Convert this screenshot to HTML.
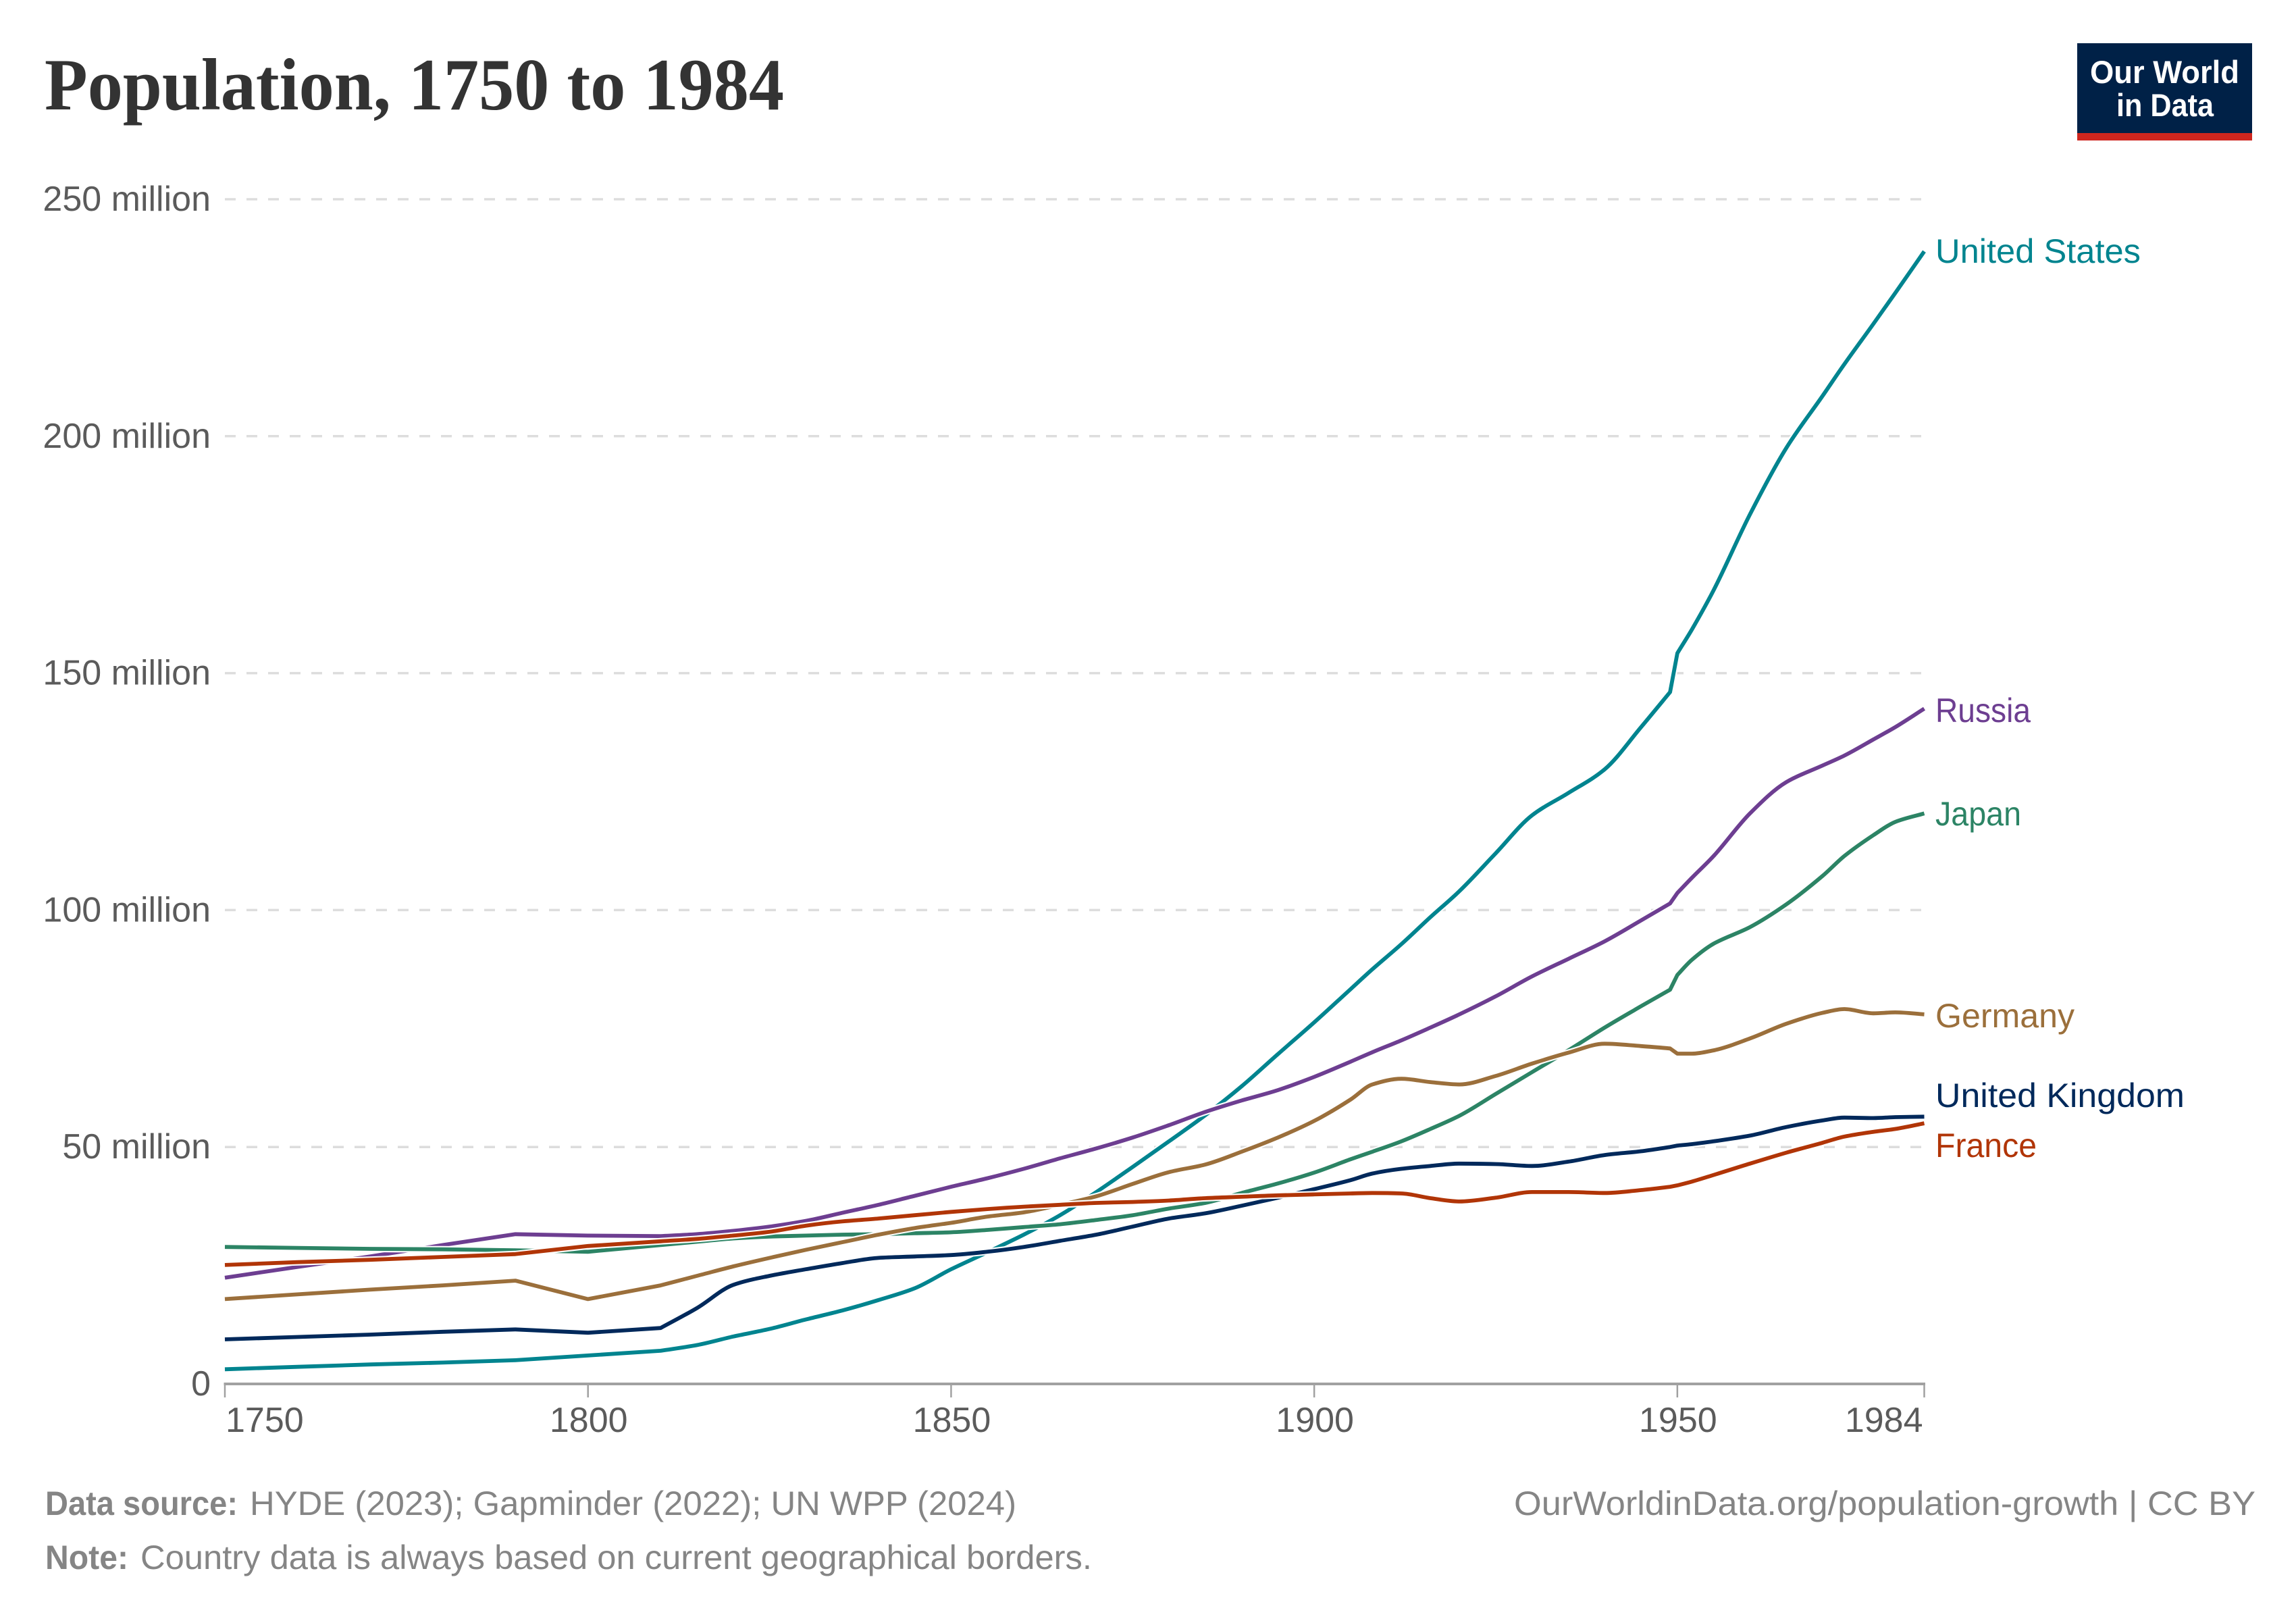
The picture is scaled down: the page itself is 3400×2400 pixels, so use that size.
<!DOCTYPE html>
<html lang="en">
<head>
<meta charset="utf-8">
<title>Population, 1750 to 1984</title>
<style>
html,body{margin:0;padding:0;background:#fff;}
svg{display:block;}
text{font-family:"Liberation Sans",sans-serif;}
.title{font-family:"Liberation Serif",serif;font-weight:700;font-size:109px;fill:#333;}
.foot{font-size:50px;fill:#858585;}
.foot-b{font-size:50px;fill:#858585;font-weight:700;}
.logo-t{font-size:47px;font-weight:700;fill:#fff;}
.tick{font-size:52px;fill:#5b5b5b;}
.label{font-size:50px;}
</style>
</head>
<body>
<svg id="chart" width="3400" height="2400" viewBox="0 0 3400 2400" xmlns="http://www.w3.org/2000/svg">
  <rect x="0" y="0" width="3400" height="2400" fill="#ffffff"/>
  <text class="title" x="66" y="162" textLength="1095" lengthAdjust="spacingAndGlyphs">Population, 1750 to 1984</text>
  <g>
    <rect x="3076" y="64" width="259" height="133" fill="#002147"/>
    <rect x="3076" y="197" width="259" height="11" fill="#ce261e"/>
    <text class="logo-t" x="3095" y="123" textLength="221" lengthAdjust="spacingAndGlyphs">Our World</text>
    <text class="logo-t" x="3134" y="172" textLength="144" lengthAdjust="spacingAndGlyphs">in Data</text>
  </g>
  <g id="grid"></g>
  <g id="y-axis"></g>
  <g id="x-axis"></g>
  <g id="series"></g>
  <g id="labels"></g>
  <g>
    <text class="foot-b" x="67" y="2243" textLength="285" lengthAdjust="spacingAndGlyphs">Data source:</text>
    <text class="foot" x="370" y="2243" textLength="1135" lengthAdjust="spacingAndGlyphs">HYDE (2023); Gapminder (2022); UN WPP (2024)</text>
    <text class="foot-b" x="67" y="2323" textLength="123" lengthAdjust="spacingAndGlyphs">Note:</text>
    <text class="foot" x="208" y="2323" textLength="1409" lengthAdjust="spacingAndGlyphs">Country data is always based on current geographical borders.</text>
    <text class="foot" x="2242" y="2243" textLength="1098" lengthAdjust="spacingAndGlyphs">OurWorldinData.org/population-growth | CC BY</text>
  </g>
</svg>
<script>
// Data (population in millions)
const years = [1750,1760,1770,1780,1790,1800,1810,
  1815,1820,1825,1830,1835,1840,1845,1850,1855,1860,1865,1870,1875,1880,1885,1890,1895,1900,1905,
  1908,1912,1916,1920,1925,1930,1935,1940,1945,1949,1950,1952,1955,1960,1965,1970,1973,1977,1980,1984];

const unitedStates = [3.1,3.6,4.1,4.5,5.0,6.0,7.0,
  8.2,10,11.6,13.6,15.5,17.7,20.2,24.2,27.8,31.5,35.6,40.5,45.8,51.2,56.7,62.8,69.6,76.3,83.3,
  87.5,92.8,98.5,104,112,120,124.7,129.7,138.6,146,154.2,159.2,167.5,183.5,197.5,208.5,215.2,223.7,230.2,239];

const russia = [22.4,24.7,26.9,29.3,31.6,31.3,31.2,
  31.6,32.3,33.2,34.4,36.1,37.8,39.7,41.6,43.4,45.4,47.6,49.7,52,54.6,57.4,59.8,62,64.8,68,
  70,72.5,75.2,78,81.8,86,89.7,93.4,97.8,101.4,103.6,106.8,111.4,120.4,127,130.5,132.6,136,138.6,142.5];

const japan = [28.9,28.7,28.5,28.4,28.2,27.9,29.3,
  30,30.7,31.1,31.3,31.5,31.6,31.8,32,32.5,33.1,33.7,34.6,35.6,37,38.2,40.3,42.3,44.6,47.4,
  49,51.2,53.8,56.6,61.2,65.8,70.4,75.2,79.7,83.2,86.3,89.5,92.9,96.4,101.2,107.2,111.4,115.8,118.6,120.4];

const germany = [17.9,18.9,19.9,20.8,21.8,17.9,20.8,
  22.8,24.8,26.6,28.3,29.9,31.5,32.9,34,35.3,36.2,37.8,39.6,42.2,44.7,46.3,49,52,55.5,60,
  63.2,64.4,63.7,63.2,65,67.6,69.9,71.8,71.3,70.8,69.7,69.7,70.4,72.9,76,78.3,79.1,78.2,78.4,78];

const unitedKingdom = [9.4,9.9,10.4,11,11.5,10.8,11.8,
  16,20.9,22.8,24.2,25.5,26.6,26.9,27.2,27.9,28.9,30.2,31.5,33.2,34.9,36,37.6,39.3,41.1,43,
  44.4,45.4,46,46.5,46.4,46,46.9,48.3,49.1,50,50.3,50.6,51.2,52.4,54.2,55.6,56.2,56.1,56.3,56.4];

const france = [25.1,25.7,26.2,26.8,27.4,29.1,30.1,
  30.6,31.3,32.1,33.4,34.3,34.9,35.6,36.3,36.9,37.4,37.8,38.2,38.4,38.7,39.2,39.5,39.8,40,40.2,
  40.3,40.2,39.2,38.5,39.3,40.5,40.5,40.3,40.9,41.6,41.9,42.7,44.1,46.5,48.8,50.9,52.2,53.2,53.8,55];

const yTicks = [0,50,100,150,200,250];
const yTickLabels = ["0","50 million","100 million","150 million","200 million","250 million"];
const xTicks = [1750,1800,1850,1900,1950,1984];
const xTickLabels = ["1750","1800","1850","1900","1950","1984"];

const NS = "http://www.w3.org/2000/svg";
const X0 = 333, X1 = 2849.5, Y0 = 2049, PX_PER_M = 7.016;
function xScale(year){ return X0 + (year - 1750) * (X1 - X0) / 234; }
function yScale(value){ return Y0 - value * PX_PER_M; }
function make(tag, parent){ const el = document.createElementNS(NS, tag); parent.appendChild(el); return el; }

// Segments up to 1810 and the 1949-1950 jump stay straight (sparse / abrupt data); the rest use a monotone curve.
function isStraight(i){ return years[i + 1] <= 1810 || (years[i] === 1949 && years[i + 1] === 1950); }
function linePath(values){
  const px = values.map(function(v, i){ return xScale(years[i]); });
  const py = values.map(function(v){ return yScale(v); });
  const n = values.length;
  const sl = [];
  for (let i = 0; i < n - 1; i++) sl.push((py[i + 1] - py[i]) / (px[i + 1] - px[i]));
  const m = [];
  for (let i = 0; i < n; i++) {
    if (i === 0) m.push(sl[0]);
    else if (i === n - 1) m.push(sl[n - 2]);
    else if (isStraight(i - 1)) m.push(sl[i]);
    else if (isStraight(i)) m.push(sl[i - 1]);
    else if (sl[i - 1] * sl[i] <= 0) m.push(0);
    else m.push(2 * sl[i - 1] * sl[i] / (sl[i - 1] + sl[i]));
  }
  let d = "M" + px[0].toFixed(1) + " " + py[0].toFixed(1);
  for (let i = 0; i < n - 1; i++) {
    if (isStraight(i)) {
      d += " L" + px[i + 1].toFixed(1) + " " + py[i + 1].toFixed(1);
    } else {
      const h = (px[i + 1] - px[i]) / 3;
      d += " C" + (px[i] + h).toFixed(1) + " " + (py[i] + m[i] * h).toFixed(1) + " " +
           (px[i + 1] - h).toFixed(1) + " " + (py[i + 1] - m[i + 1] * h).toFixed(1) + " " +
           px[i + 1].toFixed(1) + " " + py[i + 1].toFixed(1);
    }
  }
  return d;
}

const gridG = document.getElementById("grid");
const yG = document.getElementById("y-axis");
yTicks.forEach(function(t, i){
  const y = yScale(t);
  if (t !== 0) {
    const ln = make("line", gridG);
    
    
    ln.setAttribute("x1", X0); ln.setAttribute("x2", X1);
    ln.setAttribute("y1", y); ln.setAttribute("y2", y);
    ln.setAttribute("stroke", "#dddddd");
    ln.setAttribute("stroke-width", "3.5");
    ln.setAttribute("stroke-dasharray", "16 16");
  }
  const tx = make("text", yG);
  
  
  tx.setAttribute("class", "tick");
  tx.setAttribute("x", 312);
  tx.setAttribute("y", y + 17);
  tx.setAttribute("text-anchor", "end");
  tx.textContent = yTickLabels[i];
});

const xG = document.getElementById("x-axis");
const axisLine = make("line", xG);


axisLine.setAttribute("x1", xScale(1750) - 1.5); axisLine.setAttribute("x2", xScale(1984) + 1.5);
axisLine.setAttribute("y1", Y0); axisLine.setAttribute("y2", Y0);
axisLine.setAttribute("stroke", "#a1a1a1"); axisLine.setAttribute("stroke-width", "4");
xTicks.forEach(function(t, i){
  const x = xScale(t);
  const tick = make("line", xG);
  
  
  tick.setAttribute("x1", x); tick.setAttribute("x2", x);
  tick.setAttribute("y1", Y0); tick.setAttribute("y2", Y0 + 20);
  tick.setAttribute("stroke", "#a1a1a1"); tick.setAttribute("stroke-width", "2.5");
  const tx = make("text", xG);
  
  
  tx.setAttribute("class", "tick");
  const isFirst = i === 0, isLast = i === xTicks.length - 1;
  tx.setAttribute("x", isLast ? x - 2 : x + 1);
  tx.setAttribute("y", 2120);
  tx.setAttribute("text-anchor", isFirst ? "start" : (isLast ? "end" : "middle"));
  tx.textContent = xTickLabels[i];
});

const seriesG = document.getElementById("series");
function drawSeries(slug, values, color){
  const d = linePath(values);
  const halo = make("path", seriesG);
  
  
  halo.setAttribute("d", d);
  halo.setAttribute("fill", "none");
  halo.setAttribute("stroke", "#ffffff");
  halo.setAttribute("stroke-width", "10");
  halo.setAttribute("stroke-linejoin", "round");
  const line = make("path", seriesG);
  
  
  line.setAttribute("d", d);
  line.setAttribute("fill", "none");
  line.setAttribute("stroke", color);
  line.setAttribute("stroke-width", "5.8");
  line.setAttribute("stroke-linejoin", "round");
}
drawSeries("united-states", unitedStates, "#00848f");
drawSeries("russia", russia, "#6d3e91");
drawSeries("japan", japan, "#2c8465");
drawSeries("germany", germany, "#9b6f3b");
drawSeries("united-kingdom", unitedKingdom, "#00295b");
drawSeries("france", france, "#b13507");

const labelsG = document.getElementById("labels");
function drawLabel(slug, name, color, baseline, width){
  const tx = make("text", labelsG);
  
  
  tx.setAttribute("class", "label");
  tx.setAttribute("x", 2866);
  tx.setAttribute("y", baseline);
  tx.setAttribute("fill", color);
  tx.setAttribute("textLength", width);
  tx.setAttribute("lengthAdjust", "spacingAndGlyphs");
  tx.textContent = name;
}
drawLabel("united-states", "United States", "#00848f", 389, 304);
drawLabel("russia", "Russia", "#6d3e91", 1069, 141);
drawLabel("japan", "Japan", "#2c8465", 1222, 127);
drawLabel("germany", "Germany", "#9b6f3b", 1521, 206);
drawLabel("united-kingdom", "United Kingdom", "#00295b", 1639, 369);
drawLabel("france", "France", "#b13507", 1713, 150);
</script>
</body>
</html>
